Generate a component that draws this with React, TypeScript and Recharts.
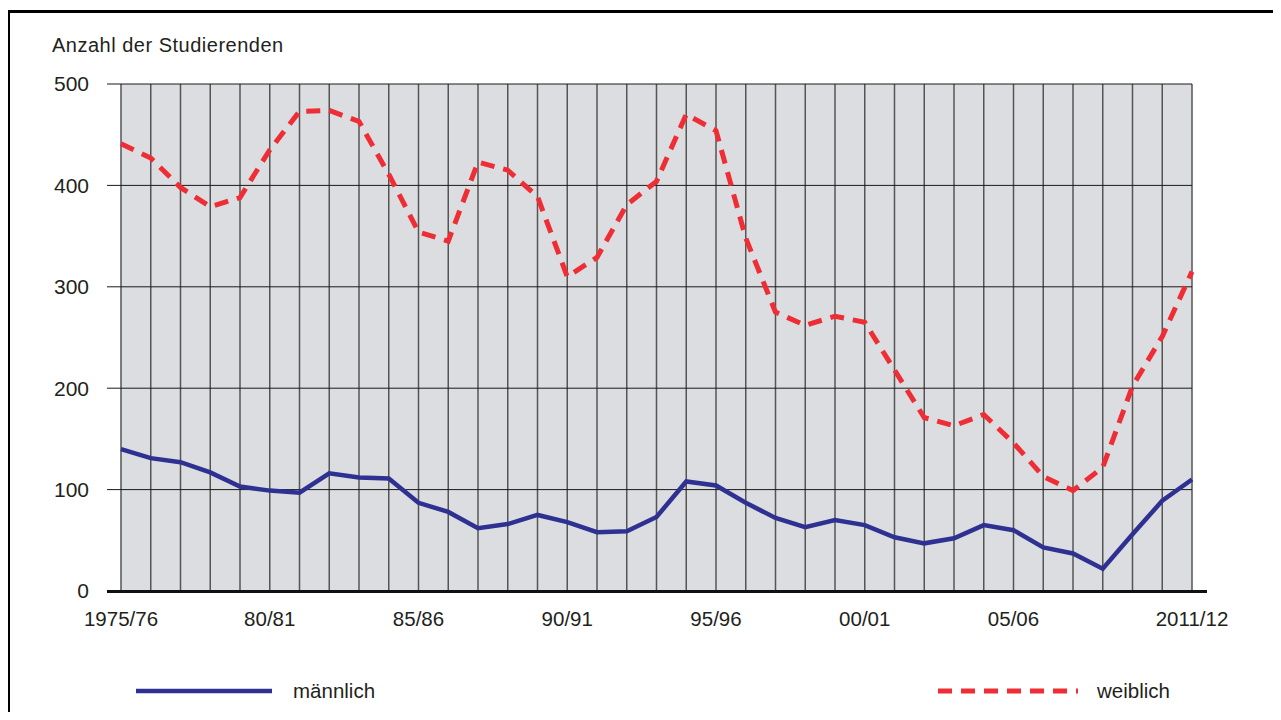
import { CartesianGrid, Line, LineChart, XAxis, YAxis } from "recharts";

const jahre = [
  "1975/76", "76/77", "77/78", "78/79", "79/80", "80/81", "81/82", "82/83", "83/84", "84/85",
  "85/86", "86/87", "87/88", "88/89", "89/90", "90/91", "91/92", "92/93", "93/94", "94/95",
  "95/96", "96/97", "97/98", "98/99", "99/00", "00/01", "01/02", "02/03", "03/04", "04/05",
  "05/06", "06/07", "07/08", "08/09", "09/10", "10/11", "2011/12",
];

const maennlich = [
  140, 131, 127, 117, 103, 99, 97, 116, 112, 111, 87, 78, 62, 66, 75, 68, 58, 59, 73, 108,
  104, 87, 72, 63, 70, 65, 53, 47, 52, 65, 60, 43, 37, 22, 56, 89, 110,
];

const weiblich = [
  441, 427, 398, 379, 388, 435, 473, 474, 463, 411, 354, 345, 423, 415, 389, 310, 329, 381, 404, 470,
  454, 348, 275, 262, 271, 265, 218, 171, 163, 174, 146, 113, 99, 122, 202, 251, 315,
];

const yTicks = [0, 100, 200, 300, 400, 500];
const shownLabels = ["1975/76", "80/81", "85/86", "90/91", "95/96", "00/01", "05/06", "2011/12"];

const BLUE = "#2e3192";
const RED = "#ee2d34";
const FONT = "'Liberation Sans', Arial, Helvetica, sans-serif";

const data = jahre.map((j, i) => ({ jahr: j, m: maennlich[i], w: weiblich[i] }));

export default function App() {
  return (
    <div
      style={{
        position: "relative",
        width: 1273,
        height: 712,
        marginBottom: -8,
        overflow: "hidden",
        fontFamily: FONT,
        color: "#231f20",
      }}
    >
      {/* frame */}
      <div
        style={{
          position: "absolute",
          left: -1,
          top: 2,
          width: 1400,
          height: 800,
          borderTop: "3px solid #000",
          borderLeft: "3px solid #000",
        }}
      />
      <div
        style={{
          position: "absolute",
          left: 44,
          top: 27,
          fontSize: 20,
          lineHeight: "20px",
          letterSpacing: 0.5,
          whiteSpace: "nowrap",
        }}
      >
        Anzahl der Studierenden
      </div>

      <div style={{ position: "absolute", left: 0, top: 0 }}>
        <LineChart
          width={1273}
          height={700}
          data={data}
          margin={{ top: 76, right: 89, bottom: 77, left: 53 }}
        >
          <CartesianGrid horizontal={false} stroke="#555" strokeWidth={1.5} fill="#dcdde0" />
          <CartesianGrid vertical={false} stroke="#1a1a1a" strokeWidth={1} />
          <XAxis
            dataKey="jahr"
            interval={0}
            height={40}
            axisLine={false}
            tickLine={false}
            tickSize={0}
            tickMargin={20}
            tick={{ fontSize: 20.5, fill: "#231f20", fontFamily: FONT }}
            tickFormatter={(v: string) => (shownLabels.includes(v) ? v : "")}
          />
          <YAxis
            width={60}
            domain={[0, 500]}
            ticks={yTicks}
            axisLine={false}
            tickLine={{ stroke: "#1a1a1a", strokeWidth: 1 }}
            tickSize={14}
            tickMargin={18}
            tick={{ fontSize: 21, fill: "#231f20", fontFamily: FONT }}
          />
          <Line
            type="linear"
            dataKey="m"
            stroke={BLUE}
            strokeWidth={4.5}
            dot={false}
            activeDot={false}
            isAnimationActive={false}
          />
          <Line
            type="linear"
            dataKey="w"
            stroke={RED}
            strokeWidth={5}
            strokeDasharray="14 9"
            dot={false}
            activeDot={false}
            isAnimationActive={false}
          />
        </LineChart>
      </div>

      {/* thick baseline */}
      <div
        style={{
          position: "absolute",
          left: 99,
          top: 581.5,
          width: 1100,
          height: 3,
          background: "#111",
        }}
      />

      {/* legend */}
      <div style={{ position: "absolute", left: 128, top: 671, display: "flex", alignItems: "center", height: 24 }}>
        <svg width={136} height={8}>
          <line x1={0} y1={4} x2={136} y2={4} stroke={BLUE} strokeWidth={4.5} />
        </svg>
        <span style={{ marginLeft: 21, fontSize: 20.5 }}>männlich</span>
      </div>
      <div style={{ position: "absolute", left: 930, top: 671, display: "flex", alignItems: "center", height: 24 }}>
        <svg width={140} height={8}>
          <line x1={0} y1={4} x2={140} y2={4} stroke={RED} strokeWidth={5} strokeDasharray="14 9" />
        </svg>
        <span style={{ marginLeft: 19, fontSize: 20.5 }}>weiblich</span>
      </div>
    </div>
  );
}
